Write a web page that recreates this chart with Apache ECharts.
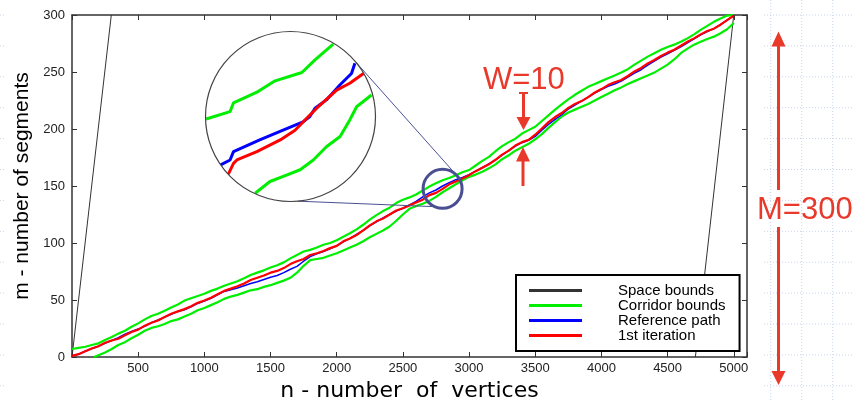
<!DOCTYPE html>
<html>
<head>
<meta charset="utf-8">
<script src="https://cdn.jsdelivr.net/npm/echarts@6/dist/echarts.min.js"></script>
<style>
  html, body { margin: 0; padding: 0; background: #fff; }
  #chart { width: 854px; height: 401px; }
</style>
</head>
<body>
<div id="chart"></div>
<script>
// -----------------------------------------------------------------------------
// Corridor search - path m(n) with corridor bounds, plus a magnified inset
// -----------------------------------------------------------------------------
const pathN = [0, 50, 100, 150, 200, 250, 300, 350, 400, 450, 500, 550, 600, 650, 700, 750, 800, 850,
  900, 950, 1000, 1050, 1100, 1150, 1200, 1250, 1300, 1350, 1400, 1450, 1500, 1550, 1600, 1650, 1700,
  1750, 1800, 1850, 1900, 1950, 2000, 2050, 2100, 2150, 2200, 2250, 2300, 2350, 2400, 2450, 2500, 2550,
  2600, 2650, 2700, 2750, 2800, 2850, 2900, 2950, 3000, 3050, 3100, 3150, 3200, 3250, 3300, 3350, 3400,
  3450, 3500, 3550, 3600, 3650, 3700, 3750, 3800, 3850, 3900, 3950, 4000, 4050, 4100, 4150, 4200, 4250,
  4300, 4350, 4400, 4450, 4500, 4550, 4600, 4650, 4700, 4750, 4800, 4850, 4900, 4950, 5000];

const firstIteration = [1, 2.5, 5, 7.5, 9.5, 12.5, 14.5, 16, 19, 22, 24, 27.5, 30, 32, 35, 38, 40, 42,
  44.5, 47.5, 49.5, 52, 55, 58, 60, 62, 64.5, 67.5, 69.5, 71.5, 74, 75.5, 78, 81.5, 84,
  86, 89.5, 91, 93, 95.5, 97.5, 101.5, 104, 107, 111, 115.5, 119, 121.5, 125, 128.5, 130.5, 133,
  135.5, 138, 142, 144, 147.5, 151.5, 154, 156.5, 159.5, 163, 166, 169, 173, 177.5, 181, 185.5, 188.5,
  190.5, 195, 200.5, 206, 210.5, 214, 218.5, 222, 224.5, 228, 232, 235, 238.5, 241, 243, 246.5, 250.5,
  253.5, 257.5, 260.5, 264, 267, 269.5, 273, 276.5, 279.5, 283, 286, 288, 291.5, 295.5, 299.5];

const referencePath = [1, 2.5, 5, 7.5, 9.5, 12, 14.5, 17, 20, 22.5, 24.5, 27, 30, 32.5, 35, 37.5, 40, 41.5,
  44, 47, 49, 51.5, 54.5, 57.5, 59, 60.5, 62.5, 64.5, 66, 68, 70, 71.5, 74, 77, 79.5,
  84, 88, 90.5, 92.5, 95, 97.5, 101, 104, 107.5, 111, 115, 118.5, 122, 125, 128, 130.5, 133.5,
  136.5, 140.5, 144, 146.5, 150, 153, 155.5, 157.5, 160, 163, 166, 169.5, 173, 177, 181, 185, 188,
  190, 193.5, 199, 204, 208.5, 212.5, 217.5, 221, 224.5, 228, 231.5, 234.5, 237.5, 239.5, 242, 245.5, 249,
  252, 256, 259.5, 263, 266, 269, 272, 275.5, 279, 282.5, 285.5, 288, 291.5, 295.5, 299.5];

const corridorUpper = [7, 8, 9, 10.5, 12, 15, 17.5, 20.5, 23, 26.5, 29.5, 33, 36, 38, 40.5, 43.5, 46, 49.5,
  51.5, 53.5, 55.5, 58, 60, 62.5, 64.5, 66.5, 69, 72, 74, 76, 78.5, 80.5, 83, 86.5, 89.5,
  92.5, 94, 96, 98.5, 100, 102.5, 105.5, 108.5, 112, 116, 120.5, 124.5, 128, 131, 135, 138, 140,
  142.5, 146, 149.5, 152.5, 155, 157, 159.5, 162, 164, 168, 172, 175.5, 180.5, 185, 188.5, 191.5, 196,
  199, 202, 207, 212, 217, 221.5, 226, 230, 233.5, 237, 239.5, 242, 244.5, 247, 249.5, 252.5, 256.5,
  260, 263.5, 266.5, 269.5, 272, 274, 276.5, 279.5, 283, 287, 290.5, 294, 297, 299.5, 300];

const corridorLowerN = [166, 200, 250, 300, 350, 400, 450, 500, 550, 600, 650, 700, 750, 800, 850,
  900, 950, 1000, 1050, 1100, 1150, 1200, 1250, 1300, 1350, 1400, 1450, 1500, 1550, 1600, 1650, 1700,
  1750, 1800, 1850, 1900, 1950, 2000, 2050, 2100, 2150, 2200, 2250, 2300, 2350, 2400, 2450, 2500, 2550,
  2600, 2650, 2700, 2750, 2800, 2850, 2900, 2950, 3000, 3050, 3100, 3150, 3200, 3250, 3300, 3350, 3400,
  3450, 3500, 3550, 3600, 3650, 3700, 3750, 3800, 3850, 3900, 3950, 4000, 4050, 4100, 4150, 4200, 4250,
  4300, 4350, 4400, 4450, 4500, 4550, 4600, 4650, 4700, 4750, 4800, 4850, 4900, 4950, 5000];
const corridorLower = [0, 1.5, 4, 7, 10.5, 13, 16.5, 19.5, 23, 25.5, 27, 29, 31.5, 33, 35.5,
  38, 41, 43, 45.5, 48, 51, 53, 54.5, 56.5, 58.5, 59.5, 61.5, 63, 65, 67, 69.5, 74,
  80, 85, 86, 87, 89, 91, 93.5, 96, 98.5, 101.5, 105, 108, 111, 114.5, 119.5, 125, 130,
  132.5, 134.5, 137, 140.5, 144.5, 148, 151.5, 155, 158, 160, 162.5, 165.5, 169, 173.5, 177, 181, 184,
  187, 191, 195.5, 201, 206, 211, 214.5, 217, 219.5, 222, 225, 228, 231, 234, 236.5, 239.5, 242,
  244.5, 247, 249.5, 253, 256.5, 261, 266.5, 270.5, 274, 276.5, 279, 281, 284, 287.5, 293];

const spaceBoundLeft = [[0, 0], [297, 300]];
const spaceBoundRight = [[4710, 0], [5000, 300]];

// magnified window around n=2800, m=147.5
const insetWindowN = [2650, 2950];
const insetWindowM = [130, 165];
const insetUpper = [[2652, 147], [2694, 148.5], [2700, 150.3], [2743, 152.6], [2773, 154.8],
  [2820, 156.5], [2843, 159.1], [2875, 162.3]];
const insetReference = [[2677.5, 137.6], [2694, 138.6], [2700, 140.3], [2746, 142.7], [2787, 144.7],
  [2822, 146.4], [2834, 147.5], [2843, 149.2], [2863, 150.9], [2887, 154], [2907, 156.3], [2913, 158.4]];
const insetFirst = [[2691, 135.7], [2700, 137.9], [2706, 138.6], [2741, 140.3], [2782, 142.7],
  [2808, 144.7], [2828, 147.1], [2846, 149.2], [2881, 152.9], [2904, 154.3], [2928, 156.3]];
const insetLower = [[2738, 131.8], [2764, 134.2], [2793, 135.5], [2817, 136.6], [2840, 138.6],
  [2863, 141.3], [2887, 143.4], [2904, 146.8], [2916, 149.5], [2942, 151.9]];

const xTicks = { min: 0, max: 5100, interval: 500 };
const yTicks = { min: 0, max: 300, interval: 50 };
const legendNames = ["Space bounds", "Corridor bounds", "Reference path", "1st iteration"];

const COLORS = { space: "#333333", corridor: "#00ee00", reference: "#0000ff", first: "#ff0000" };
const NOTE_RED = "#e8392b";
const AXIS_COLOR = "#333";

const zip = (xs, ys) => xs.map((x, i) => [x, ys[i]]);

function lineSeries(name, data, color, width, axis) {
  return {
    name,
    type: "line",
    xAxisIndex: axis,
    yAxisIndex: axis,
    data,
    symbol: "none",
    silent: true,
    color,
    itemStyle: { color },
    lineStyle: { color, width },
    z: 2
  };
}

function frameAxis(extra) {
  return Object.assign({
    type: "value",
    gridIndex: 0,
    axisLine: { show: true, onZero: false, lineStyle: { color: AXIS_COLOR, width: 1.5 } },
    axisTick: { show: true, inside: true, length: 5, lineStyle: { color: AXIS_COLOR, width: 1 } },
    splitLine: { show: false }
  }, extra);
}

const labelStyle = { fontFamily: "Liberation Sans", fontSize: 13, color: "#222" };

const chart = echarts.init(document.getElementById("chart"));

chart.setOption({
  animation: false,
  grid: [
    { left: 72, top: 15, width: 675, height: 342, containLabel: false, outerBoundsMode: "none" },
    { left: 205, top: 31, width: 171, height: 171, containLabel: false, outerBoundsMode: "none" }
  ],
  xAxis: [
    frameAxis(Object.assign({
      position: "bottom",
      axisLabel: Object.assign({
        margin: 5,
        formatter: (v) => (v > 0 && v <= 5000 ? String(v) : "")
      }, labelStyle),
      name: "n - number  of  vertices",
      nameLocation: "middle",
      nameGap: 21,
      nameTextStyle: { fontFamily: "DejaVu Sans", fontSize: 22, color: "#000" }
    }, xTicks)),
    frameAxis(Object.assign({ position: "top", axisLabel: { show: false } }, xTicks)),
    { type: "value", gridIndex: 1, show: false, min: insetWindowN[0], max: insetWindowN[1] }
  ],
  yAxis: [
    frameAxis(Object.assign({
      position: "left",
      axisLabel: Object.assign({ margin: 7 }, labelStyle),
      name: "m - number of segments",
      nameLocation: "middle",
      nameGap: 33,
      nameTextStyle: { fontFamily: "Liberation Sans", fontSize: 21, color: "#000" }
    }, yTicks)),
    frameAxis(Object.assign({ position: "right", axisLabel: { show: false } }, yTicks)),
    { type: "value", gridIndex: 1, show: false, min: insetWindowM[0], max: insetWindowM[1] }
  ],
  legend: {
    data: legendNames,
    orient: "vertical",
    left: 516,
    top: 275,
    padding: [8, 14, 8, 13],
    itemGap: 0,
    itemWidth: 53,
    itemHeight: 3,
    icon: "rect",
    selectedMode: false,
    backgroundColor: "#fff",
    borderColor: "#000",
    borderWidth: 2,
    textStyle: {
      fontFamily: "Liberation Sans",
      fontSize: 15,
      lineHeight: 14,
      color: "#000",
      padding: [0, 0, 0, 31]
    }
  },
  series: [
    lineSeries("Space bounds", spaceBoundLeft, COLORS.space, 1, 0),
    lineSeries("Space bounds", spaceBoundRight, COLORS.space, 1, 0),
    lineSeries("Corridor bounds", zip(pathN, corridorUpper), COLORS.corridor, 2.2, 0),
    lineSeries("Corridor bounds", zip(corridorLowerN, corridorLower), COLORS.corridor, 2.2, 0),
    lineSeries("Reference path", zip(pathN, referencePath), COLORS.reference, 1.5, 0),
    lineSeries("1st iteration", zip(pathN, firstIteration), COLORS.first, 2.2, 0),
    lineSeries("Corridor bounds", insetUpper, COLORS.corridor, 3, 2),
    lineSeries("Corridor bounds", insetLower, COLORS.corridor, 3, 2),
    lineSeries("Reference path", insetReference, COLORS.reference, 3, 2),
    lineSeries("1st iteration", insetFirst, COLORS.first, 3, 2)
  ]
});

// decorations: slide grid, magnifier, W / M notes
function decorations() {
  const els = [];
  const dotted = { stroke: "#c8d4ee", lineWidth: 1, lineDash: [1, 2] };
  for (let k = 0; k < 13; k++) {
    const y = 15 + 30.9 * k;
    els.push({ type: "line", silent: true, z: 0, shape: { x1: 0, y1: y, x2: 6, y2: y }, style: dotted });
    els.push({ type: "line", silent: true, z: 0, shape: { x1: 764, y1: y, x2: 854, y2: y }, style: dotted });
  }
  [770.7, 801.7, 832.7].forEach((x) => {
    els.push({ type: "line", silent: true, z: 0, shape: { x1: x, y1: 0, x2: x, y2: 401 }, style: dotted });
  });

  // magnifier: small circle sits on the path, big circle holds the inset grid
  const small = chart.convertToPixel({ xAxisIndex: 0, yAxisIndex: 0 }, [2800, 147.5]);
  const rSmall = 19.5;
  const big = [205 + 171 / 2, 31 + 171 / 2];
  const rBig = 85;
  const onCircle = (c, r, deg) => [c[0] + r * Math.cos(deg * Math.PI / 180), c[1] + r * Math.sin(deg * Math.PI / 180)];
  const a1 = onCircle(big, rBig, -39.5), b1 = onCircle(small, rSmall, -41);
  const a2 = onCircle(big, rBig, 85), b2 = onCircle(small, rSmall, 114);
  const linkStyle = { stroke: "#4a5092", lineWidth: 1 };
  els.push({ type: "line", silent: true, z: 5, shape: { x1: a1[0], y1: a1[1], x2: b1[0], y2: b1[1] }, style: linkStyle });
  els.push({ type: "line", silent: true, z: 5, shape: { x1: a2[0], y1: a2[1], x2: b2[0], y2: b2[1] }, style: linkStyle });
  els.push({ type: "circle", silent: true, z: 5, shape: { cx: big[0], cy: big[1], r: rBig }, style: { fill: null, stroke: "#444", lineWidth: 1.2 } });
  els.push({ type: "circle", silent: true, z: 6, shape: { cx: small[0], cy: small[1], r: rSmall }, style: { fill: null, stroke: "#4a4f91", lineWidth: 3 } });

  const arrowShaft = (x, y1, y2) => ({ type: "line", silent: true, z: 10, shape: { x1: x, y1, x2: x, y2 }, style: { stroke: NOTE_RED, lineWidth: 3 } });
  const arrowHead = (x, tip, base) => ({
    type: "polygon", silent: true, z: 10,
    shape: { points: [[x, tip], [x - 7, base], [x + 7, base]] },
    style: { fill: NOTE_RED }
  });
  const note = (text, x, y) => ({
    type: "text", silent: true, z: 10, x, y,
    style: { text, fill: NOTE_RED, fontFamily: "Liberation Sans", fontSize: 31, verticalAlign: "middle" }
  });

  // W=10
  els.push(note("W=10", 483, 80));
  els.push({ type: "line", silent: true, z: 10, shape: { x1: 519, y1: 93, x2: 528, y2: 93 }, style: { stroke: NOTE_RED, lineWidth: 2 } });
  els.push(arrowShaft(523.5, 93, 118));
  els.push(arrowHead(523.5, 130, 117));
  els.push(arrowHead(523, 147, 161.5));
  els.push(arrowShaft(523, 160, 186));

  // M=300
  els.push(note("M=300", 757, 210));
  els.push(arrowHead(778.5, 31.5, 46.5));
  els.push(arrowShaft(778.5, 45, 190));
  els.push(arrowShaft(778.5, 227, 372));
  els.push(arrowHead(778.5, 385, 371));
  return els;
}

chart.setOption({ graphic: { elements: decorations() } });
</script>
</body>
</html>
